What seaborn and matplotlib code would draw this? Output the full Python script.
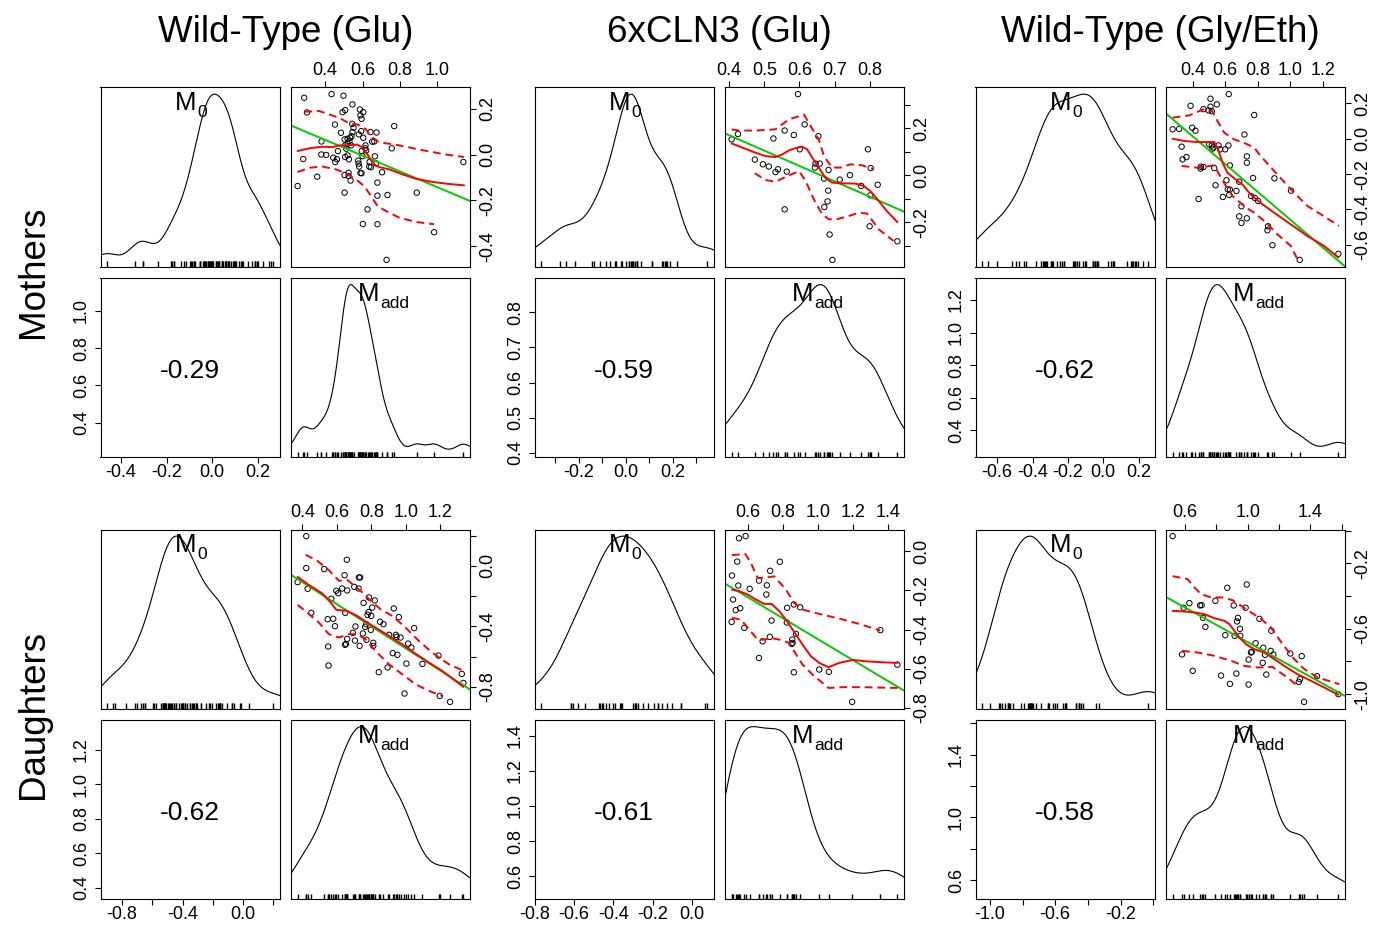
import numpy as np
import matplotlib
matplotlib.use("Agg")
import matplotlib.pyplot as plt
import seaborn as sns


GROUP_TITLES = ["Wild-Type (Glu)", "6xCLN3 (Glu)", "Wild-Type (Gly/Eth)"]
ROW_LABELS = ["Mothers", "Daughters"]
CORR_LABELS = ["-0.29", "-0.59", "-0.62", "-0.62", "-0.61", "-0.58"]
VAR_NAME = "M"
VAR_SUBS = ["0", "add"]

# points as (Madd, M0)
WT_GLU_MOTHERS = [
    (0.287, 0.249), (0.434, 0.265), (0.498, 0.258), (0.302, 0.185), (0.546, 0.220),
    (0.493, 0.186), (0.507, 0.195), (0.586, 0.198), (0.604, 0.186), (0.589, 0.172),
    (0.452, 0.132), (0.545, 0.135), (0.552, 0.118), (0.595, 0.157), (0.770, 0.125),
    (0.484, 0.096), (0.546, 0.099), (0.541, 0.081), (0.593, 0.103), (0.580, 0.089),
    (0.643, 0.099), (0.675, 0.097), (0.504, 0.067), (0.520, 0.070), (0.534, 0.074),
    (0.530, 0.060), (0.521, 0.049), (0.604, 0.074), (0.380, 0.058), (0.507, 0.041),
    (0.539, 0.041), (0.513, 0.026), (0.652, 0.057), (0.663, 0.058), (0.616, 0.041),
    (0.614, 0.028), (0.620, 0.019), (0.596, 0.016), (0.757, 0.028), (0.379, 0.001),
    (0.405, -0.001), (0.443, -0.013), (0.463, -0.020), (0.454, -0.032), (0.468, 0.016),
    (0.520, -0.003), (0.507, -0.010), (0.527, -0.020), (0.600, -0.006), (0.666, -0.007),
    (0.282, -0.019), (0.577, -0.026), (0.579, -0.039), (0.582, -0.052), (0.638, -0.032),
    (0.636, -0.052), (0.645, -0.055), (0.673, -0.038), (0.589, -0.080), (0.595, -0.081),
    (0.504, -0.089), (0.525, -0.079), (0.525, -0.093), (0.536, -0.113), (0.705, -0.077),
    (0.357, -0.096), (1.141, -0.032), (0.252, -0.137), (0.680, -0.122), (0.504, -0.166),
    (0.680, -0.179), (0.734, -0.176), (0.891, -0.166), (0.627, -0.239), (0.602, -0.303),
    (0.680, -0.304), (0.984, -0.339), (0.729, -0.460),
]
CLN3_GLU_MOTHERS = [
    (0.596, 0.346), (0.425, 0.176), (0.407, 0.153), (0.615, 0.217), (0.558, 0.191),
    (0.584, 0.172), (0.526, 0.157), (0.654, 0.167), (0.601, 0.111), (0.795, 0.111),
    (0.473, 0.067), (0.496, 0.047), (0.513, 0.038), (0.539, 0.026), (0.532, 0.014),
    (0.564, 0.016), (0.646, 0.050), (0.658, 0.050), (0.644, 0.033), (0.683, 0.023),
    (0.670, -0.014), (0.715, -0.018), (0.744, 0.001), (0.803, 0.031), (0.776, -0.045),
    (0.823, -0.040), (0.802, -0.085), (0.682, -0.065), (0.680, -0.111), (0.671, -0.135),
    (0.558, -0.145), (0.800, -0.217), (0.686, -0.252), (0.879, -0.281), (0.694, -0.360),
]
WT_GLY_MOTHERS = [
    (0.622, 0.252), (0.510, 0.226), (0.549, 0.194), (0.510, 0.181), (0.388, 0.186),
    (0.467, 0.167), (0.498, 0.160), (0.518, 0.156), (0.778, 0.134), (0.278, 0.053),
    (0.318, 0.055), (0.398, 0.062), (0.418, 0.045), (0.718, 0.024), (0.502, -0.032),
    (0.518, -0.038), (0.529, -0.049), (0.559, -0.038), (0.569, -0.060), (0.600, -0.060),
    (0.620, -0.038), (0.522, -0.056), (0.333, -0.045), (0.363, -0.104), (0.339, -0.117),
    (0.733, -0.100), (0.733, -0.136), (0.451, -0.158), (0.467, -0.160), (0.449, -0.169),
    (0.533, -0.166), (0.629, -0.151), (0.771, -0.222), (0.902, -0.224), (0.608, -0.235),
    (0.541, -0.263), (0.686, -0.243), (0.616, -0.286), (0.629, -0.288), (0.669, -0.295),
    (0.625, -0.318), (0.586, -0.329), (0.437, -0.341), (1.004, -0.294), (0.759, -0.324),
    (0.782, -0.335), (0.802, -0.352), (0.700, -0.382), (0.686, -0.439), (0.733, -0.450),
    (0.700, -0.476), (0.863, -0.495), (0.859, -0.518), (0.890, -0.602), (1.057, -0.685),
    (1.294, -0.651),
]
WT_GLU_DAUGHTERS = [
    (0.423, 0.196), (0.658, 0.040), (0.423, -0.015), (0.527, -0.022), (0.645, -0.062),
    (0.728, -0.077), (0.735, -0.077), (0.373, -0.108), (0.431, -0.152), (0.597, -0.165),
    (0.608, -0.181), (0.631, -0.150), (0.660, -0.163), (0.701, -0.139), (0.726, -0.150),
    (0.568, -0.218), (0.786, -0.209), (0.820, -0.229), (0.755, -0.245), (0.805, -0.276),
    (0.784, -0.306), (0.778, -0.324), (0.799, -0.331), (0.649, -0.311), (0.452, -0.311),
    (0.930, -0.282), (0.959, -0.339), (0.547, -0.353), (0.579, -0.350), (0.589, -0.399),
    (0.851, -0.370), (0.870, -0.386), (0.770, -0.386), (0.764, -0.403), (0.797, -0.423),
    (0.708, -0.401), (1.048, -0.412), (0.693, -0.443), (0.751, -0.447), (0.903, -0.456),
    (0.942, -0.456), (0.946, -0.469), (0.969, -0.474), (0.660, -0.483), (0.653, -0.516),
    (0.647, -0.522), (0.705, -0.494), (0.772, -0.489), (0.811, -0.509), (0.811, -0.529),
    (0.732, -0.529), (0.550, -0.533), (1.013, -0.514), (1.032, -0.540), (0.924, -0.577),
    (0.951, -0.588), (1.189, -0.593), (0.843, -0.703), (0.894, -0.672), (1.003, -0.646),
    (1.096, -0.648), (0.552, -0.659), (1.324, -0.714), (1.333, -0.774), (0.992, -0.844),
    (1.196, -0.860), (1.256, -0.899),
]
CLN3_GLU_DAUGHTERS = [
    (0.549, 0.066), (0.587, 0.077), (0.539, -0.053), (0.782, -0.054), (0.727, -0.100),
    (0.509, -0.124), (0.663, -0.150), (0.545, -0.175), (0.708, -0.174), (0.610, -0.192),
    (0.705, -0.221), (0.515, -0.247), (0.530, -0.301), (0.556, -0.291), (0.824, -0.289),
    (0.862, -0.272), (0.898, -0.286), (0.507, -0.361), (0.735, -0.354), (0.822, -0.364),
    (0.579, -0.391), (0.725, -0.437), (0.684, -0.460), (0.874, -0.422), (0.853, -0.451),
    (0.855, -0.468), (0.849, -0.473), (0.663, -0.545), (1.356, -0.403), (0.862, -0.618),
    (1.007, -0.604), (1.062, -0.616), (1.453, -0.579), (1.195, -0.769),
]
WT_GLY_DAUGHTERS = [
    (0.521, -0.033), (0.994, -0.329), (0.870, -0.349), (0.794, -0.429), (0.628, -0.443),
    (0.591, -0.471), (0.696, -0.457), (0.706, -0.455), (0.911, -0.457), (0.987, -0.471),
    (1.075, -0.539), (0.715, -0.533), (0.932, -0.555), (0.938, -0.533), (0.730, -0.588),
    (0.951, -0.600), (1.151, -0.612), (0.857, -0.639), (0.917, -0.643), (0.953, -0.643),
    (1.051, -0.688), (0.581, -0.757), (1.100, -0.716), (1.147, -0.735), (1.111, -0.759),
    (1.164, -0.757), (1.026, -0.741), (1.021, -0.745), (1.272, -0.751), (1.345, -0.767),
    (1.006, -0.788), (1.096, -0.808), (0.649, -0.857), (0.830, -0.886), (0.928, -0.874),
    (1.119, -0.880), (1.443, -0.890), (1.334, -0.908), (1.326, -0.925), (0.887, -0.937),
    (1.006, -0.941), (1.579, -1.000), (1.360, -1.047),
]

# red smoother (solid) and spread (dashed) lines, (Madd, M0)
WT_GLU_MOTHERS_FIT = [
    (0.252, 0.016), (0.314, 0.028), (0.386, 0.035), (0.439, 0.033), (0.475, 0.041),
    (0.511, 0.041), (0.573, 0.044), (0.600, 0.031), (0.627, 0.001), (0.645, -0.023),
    (0.663, -0.042), (0.689, -0.054), (0.743, -0.064), (0.814, -0.086), (0.886, -0.105),
    (0.975, -0.119), (1.064, -0.128), (1.145, -0.134),
]
WT_GLU_MOTHERS_UP = [
    (0.288, 0.188), (0.368, 0.191), (0.475, 0.161), (0.529, 0.137), (0.573, 0.132),
    (0.618, 0.111), (0.645, 0.079), (0.689, 0.055), (0.796, 0.041), (0.921, 0.020),
    (1.046, 0.001), (1.145, -0.010),
]
WT_GLU_MOTHERS_LO = [
    (0.252, -0.076), (0.314, -0.057), (0.386, -0.052), (0.457, -0.064), (0.511, -0.081),
    (0.564, -0.108), (0.609, -0.137), (0.645, -0.180), (0.680, -0.224), (0.725, -0.246),
    (0.796, -0.275), (0.886, -0.294), (0.984, -0.304),
]
CLN3_GLU_MOTHERS_FIT = [
    (0.407, 0.136), (0.438, 0.118), (0.476, 0.096), (0.504, 0.082), (0.532, 0.078),
    (0.551, 0.089), (0.570, 0.106), (0.589, 0.116), (0.608, 0.122), (0.622, 0.111),
    (0.637, 0.075), (0.655, 0.033), (0.674, -0.010), (0.693, -0.031), (0.722, -0.034),
    (0.759, -0.035), (0.783, -0.045), (0.802, -0.067), (0.826, -0.109), (0.849, -0.152),
    (0.879, -0.199),
]
CLN3_GLU_MOTHERS_UP = [
    (0.407, 0.196), (0.428, 0.191), (0.476, 0.191), (0.532, 0.196), (0.570, 0.238),
    (0.613, 0.259), (0.632, 0.210), (0.655, 0.153), (0.670, 0.082), (0.693, 0.033),
    (0.717, 0.033), (0.745, 0.047), (0.778, 0.043), (0.812, 0.026),
]
CLN3_GLU_MOTHERS_LO = [
    (0.473, 0.009), (0.504, -0.020), (0.532, -0.027), (0.566, -0.003), (0.599, 0.018),
    (0.618, -0.024), (0.641, -0.102), (0.665, -0.166), (0.684, -0.187), (0.707, -0.187),
    (0.741, -0.173), (0.769, -0.159), (0.793, -0.163), (0.826, -0.230), (0.868, -0.279),
]
WT_GLY_MOTHERS_FIT = [
    (0.278, 0.000), (0.349, -0.013), (0.431, -0.019), (0.533, -0.019), (0.553, -0.051),
    (0.584, -0.136), (0.614, -0.192), (0.676, -0.239), (0.706, -0.258), (0.747, -0.305),
    (0.778, -0.333), (0.829, -0.371), (0.900, -0.418), (1.002, -0.484), (1.104, -0.550),
    (1.206, -0.606), (1.294, -0.672),
]
WT_GLY_MOTHERS_UP = [
    (0.278, 0.119), (0.380, 0.132), (0.467, 0.166), (0.522, 0.156), (0.553, 0.100),
    (0.594, 0.034), (0.655, -0.004), (0.716, -0.023), (0.778, -0.051), (0.818, -0.098),
    (0.900, -0.182), (1.002, -0.286), (1.104, -0.380), (1.186, -0.427), (1.298, -0.493),
]
WT_GLY_MOTHERS_LO = [
    (0.333, -0.154), (0.431, -0.164), (0.533, -0.151), (0.563, -0.201), (0.604, -0.267),
    (0.645, -0.324), (0.727, -0.389), (0.778, -0.418), (0.839, -0.465), (0.920, -0.540),
    (1.002, -0.606), (1.043, -0.681),
]
WT_GLU_DAUGHTERS_FIT = [
    (0.373, -0.073), (0.431, -0.121), (0.516, -0.183), (0.564, -0.242), (0.597, -0.291),
    (0.660, -0.298), (0.718, -0.331), (0.776, -0.375), (0.824, -0.408), (0.901, -0.463),
    (0.978, -0.518), (1.055, -0.580), (1.133, -0.639), (1.210, -0.694), (1.333, -0.800),
]
WT_GLU_DAUGHTERS_UP = [
    (0.419, 0.073), (0.487, 0.033), (0.554, -0.029), (0.612, -0.099), (0.660, -0.093),
    (0.737, -0.165), (0.786, -0.220), (0.853, -0.287), (0.921, -0.331), (0.998, -0.408),
    (1.075, -0.496), (1.152, -0.573), (1.248, -0.650), (1.335, -0.694),
]
WT_GLU_DAUGHTERS_LO = [
    (0.373, -0.258), (0.429, -0.309), (0.496, -0.375), (0.554, -0.452), (0.612, -0.474),
    (0.670, -0.452), (0.718, -0.452), (0.766, -0.485), (0.824, -0.562), (0.901, -0.650),
    (0.978, -0.716), (1.055, -0.782), (1.133, -0.826), (1.210, -0.860),
]
CLN3_GLU_DAUGHTERS_FIT = [
    (0.509, -0.196), (0.551, -0.204), (0.598, -0.221), (0.646, -0.247), (0.693, -0.269),
    (0.735, -0.269), (0.779, -0.306), (0.817, -0.349), (0.855, -0.400), (0.912, -0.477),
    (0.959, -0.536), (1.007, -0.570), (1.060, -0.592), (1.121, -0.570), (1.197, -0.555),
    (1.273, -0.562), (1.368, -0.567), (1.453, -0.570),
]
CLN3_GLU_DAUGHTERS_UP = [
    (0.509, -0.020), (0.585, -0.014), (0.617, -0.060), (0.655, -0.136), (0.693, -0.136),
    (0.750, -0.128), (0.817, -0.196), (0.864, -0.264), (0.912, -0.298), (1.007, -0.320),
    (1.121, -0.344), (1.235, -0.371), (1.356, -0.405),
]
CLN3_GLU_DAUGHTERS_LO = [
    (0.509, -0.340), (0.560, -0.349), (0.608, -0.400), (0.655, -0.451), (0.693, -0.451),
    (0.731, -0.443), (0.779, -0.451), (0.836, -0.468), (0.864, -0.511), (0.912, -0.579),
    (0.969, -0.630), (1.060, -0.698), (1.140, -0.694), (1.254, -0.694), (1.453, -0.698),
]
WT_GLY_DAUGHTERS_FIT = [
    (0.521, -0.490), (0.596, -0.494), (0.660, -0.500), (0.723, -0.510), (0.787, -0.535),
    (0.851, -0.551), (0.883, -0.571), (0.915, -0.612), (0.947, -0.653), (0.989, -0.694),
    (1.043, -0.725), (1.106, -0.745), (1.170, -0.786), (1.234, -0.827), (1.319, -0.878),
    (1.404, -0.918), (1.489, -0.959), (1.579, -1.004),
]
WT_GLY_DAUGHTERS_UP = [
    (0.521, -0.278), (0.617, -0.296), (0.660, -0.347), (0.702, -0.388), (0.766, -0.408),
    (0.840, -0.408), (0.904, -0.425), (0.958, -0.459), (1.021, -0.500), (1.075, -0.531),
    (1.149, -0.592), (1.223, -0.694), (1.298, -0.786), (1.362, -0.847), (1.447, -0.898),
    (1.585, -0.939),
]
WT_GLY_DAUGHTERS_LO = [
    (0.581, -0.735), (0.681, -0.745), (0.787, -0.765), (0.894, -0.796), (0.979, -0.827),
    (1.064, -0.837), (1.160, -0.833), (1.192, -0.857), (1.255, -0.898), (1.330, -0.959),
]

# tick marks and which of them carry a label (R drops labels that would overlap)
MADD_TICKS = [
    [0.4, 0.6, 0.8, 1.0],
    [0.4, 0.5, 0.6, 0.7, 0.8],
    [0.4, 0.6, 0.8, 1.0, 1.2],
    [0.4, 0.6, 0.8, 1.0, 1.2],
    [0.6, 0.8, 1.0, 1.2, 1.4],
    [0.6, 0.8, 1.0, 1.2, 1.4, 1.6],
]
MADD_LABELED = [
    [0.4, 0.6, 0.8, 1.0],
    [0.4, 0.5, 0.6, 0.7, 0.8],
    [0.4, 0.6, 0.8, 1.0, 1.2],
    [0.4, 0.6, 0.8, 1.0, 1.2],
    [0.6, 0.8, 1.0, 1.2, 1.4],
    [0.6, 1.0, 1.4],
]
M0_TICKS = [
    [-0.4, -0.2, 0.0, 0.2],
    [-0.3, -0.2, -0.1, 0.0, 0.1, 0.2, 0.3],
    [-0.6, -0.4, -0.2, 0.0, 0.2],
    [-0.8, -0.6, -0.4, -0.2, 0.0, 0.2],
    [-0.8, -0.6, -0.4, -0.2, 0.0],
    [-1.0, -0.8, -0.6, -0.4, -0.2, 0.0],
]
M0_LABELED = [
    [-0.4, -0.2, 0.0, 0.2],
    [-0.2, 0.0, 0.2],
    [-0.6, -0.4, -0.2, 0.0, 0.2],
    [-0.8, -0.4, 0.0],
    [-0.8, -0.6, -0.4, -0.2, 0.0],
    [-1.0, -0.6, -0.2],
]

POINTS = [WT_GLU_MOTHERS, CLN3_GLU_MOTHERS, WT_GLY_MOTHERS,
          WT_GLU_DAUGHTERS, CLN3_GLU_DAUGHTERS, WT_GLY_DAUGHTERS]
FITS = [WT_GLU_MOTHERS_FIT, CLN3_GLU_MOTHERS_FIT, WT_GLY_MOTHERS_FIT,
        WT_GLU_DAUGHTERS_FIT, CLN3_GLU_DAUGHTERS_FIT, WT_GLY_DAUGHTERS_FIT]
UPPERS = [WT_GLU_MOTHERS_UP, CLN3_GLU_MOTHERS_UP, WT_GLY_MOTHERS_UP,
          WT_GLU_DAUGHTERS_UP, CLN3_GLU_DAUGHTERS_UP, WT_GLY_DAUGHTERS_UP]
LOWERS = [WT_GLU_MOTHERS_LO, CLN3_GLU_MOTHERS_LO, WT_GLY_MOTHERS_LO,
          WT_GLU_DAUGHTERS_LO, CLN3_GLU_DAUGHTERS_LO, WT_GLY_DAUGHTERS_LO]

# layout in pixels of the 1380x925 canvas
FIG_W, FIG_H = 1380, 925
PANEL = 179
STEP = 190.5
COL_X = [100.5, 534.5, 975.5]
ROW_Y = [87.5, 529.5]
LABEL_X = [0.478, 0.436]   # where the "M" of each diagonal label sits

sns.set_style("ticks")
plt.rcParams["font.family"] = ["Liberation Sans", "DejaVu Sans"]
plt.rcParams["text.color"] = "black"
plt.rcParams["axes.labelcolor"] = "black"
plt.rcParams["xtick.color"] = "black"
plt.rcParams["ytick.color"] = "black"
plt.rcParams["axes.linewidth"] = 0.8
plt.rcParams["axes.edgecolor"] = "black"


def padded(v):
    lo, hi = v.min(), v.max()
    r = hi - lo
    return lo - 0.04 * r, hi + 0.04 * r


def nrd0(v):
    # R's default bandwidth, given to scipy as a factor of the sd
    sd = v.std(ddof=1)
    iqr = np.subtract(*np.percentile(v, [75, 25]))
    h = 0.9 * min(sd, iqr / 1.34) * len(v) ** -0.2
    return h / sd


def fmt(t):
    return f"{abs(t):.1f}" if abs(t) < 1e-9 else f"{t:.1f}"


def tick_labels(ticks, labeled):
    return [fmt(t) if any(abs(t - l) < 1e-9 for l in labeled) else "" for t in ticks]


def add_axes(fig, x, y):
    return fig.add_axes([x / FIG_W, 1 - (y + PANEL) / FIG_H, PANEL / FIG_W, PANEL / FIG_H])


def style_ticks(ax):
    ax.tick_params(length=4.5, width=0.8, color="black", labelsize=13, labelcolor="black")


def density_panel(ax, v, lims, k):
    sns.kdeplot(x=v, bw_method=nrd0(v), cut=3, gridsize=400, color="black", lw=0.8, ax=ax)
    dmax = ax.lines[-1].get_ydata().max()
    sns.rugplot(x=v, height=0.03, color="black", lw=0.6, ax=ax)
    ax.set_xlim(lims)
    ax.set_ylim(-0.04 * dmax, 1.04 * dmax)
    ax.set_xticks([])
    ax.set_yticks([])
    ax.set_xlabel("")
    ax.set_ylabel("")
    name = ax.text(LABEL_X[k], 0.978, VAR_NAME, transform=ax.transAxes,
                   ha="center", va="top", fontsize=18.5)
    # R drops the subscript well below the baseline
    ax.annotate(VAR_SUBS[k], xy=(1.0, 0.0), xycoords=name, xytext=(0.3, -1.2),
                textcoords="offset points", ha="left", va="baseline", fontsize=12.5)


def scatter_panel(ax, madd, m0, fit, upper, lower, xl, yl, i):
    ax.set_xlim(xl)
    ax.set_ylim(yl)
    sns.scatterplot(x=madd, y=m0, marker="o", s=15, facecolor="none",
                    edgecolor="black", linewidth=0.7, ax=ax)
    sns.regplot(x=madd, y=m0, scatter=False, ci=None, truncate=False,
                color="#00CD00", line_kws={"lw": 1.4}, ax=ax)
    for line, ls in ((fit, "-"), (upper, (0, (4, 2.5))), (lower, (0, (4, 2.5)))):
        arr = np.array(line)
        sns.lineplot(x=arr[:, 0], y=arr[:, 1], sort=False, estimator=None,
                     color="red", lw=1.4, linestyle=ls, ax=ax)
    ax.set_xlim(xl)
    ax.set_ylim(yl)
    ax.set_xlabel("")
    ax.set_ylabel("")
    ax.xaxis.tick_top()
    ax.yaxis.tick_right()
    ax.set_xticks(MADD_TICKS[i], labels=tick_labels(MADD_TICKS[i], MADD_LABELED[i]))
    ax.set_yticks(M0_TICKS[i], labels=tick_labels(M0_TICKS[i], M0_LABELED[i]),
                  rotation=90, va="center")
    style_ticks(ax)
    ax.tick_params(axis="x", pad=1.5)
    ax.tick_params(axis="y", pad=2.5)


def corr_panel(ax, xl, yl, text, i):
    ax.set_xlim(xl)
    ax.set_ylim(yl)
    ax.set_xticks(M0_TICKS[i], labels=tick_labels(M0_TICKS[i], M0_LABELED[i]))
    ax.set_yticks(MADD_TICKS[i], labels=tick_labels(MADD_TICKS[i], MADD_LABELED[i]),
                  rotation=90, va="center")
    style_ticks(ax)
    ax.tick_params(axis="x", pad=0.8)
    ax.tick_params(axis="y", pad=3.0)
    ax.text(0.5, 0.482, text, transform=ax.transAxes, ha="center", va="center", fontsize=19)


fig = plt.figure(figsize=(FIG_W / 100, FIG_H / 100), dpi=100)

for i, pts in enumerate(POINTS):
    row, col = divmod(i, 3)
    arr = np.array(pts)
    madd, m0 = arr[:, 0], arr[:, 1]
    xl, yl = padded(madd), padded(m0)
    x0, y0 = COL_X[col], ROW_Y[row]

    density_panel(add_axes(fig, x0, y0), m0, yl, 0)
    scatter_panel(add_axes(fig, x0 + STEP, y0), madd, m0, FITS[i], UPPERS[i], LOWERS[i], xl, yl, i)
    corr_panel(add_axes(fig, x0, y0 + STEP), yl, xl, CORR_LABELS[i], i)
    density_panel(add_axes(fig, x0 + STEP, y0 + STEP), madd, xl, 1)

for col, title in enumerate(GROUP_TITLES):
    cx = COL_X[col] + (STEP + PANEL) / 2
    fig.text(cx / FIG_W, 1 - 42 / FIG_H, title, ha="center", va="baseline", fontsize=26.5)

for row, label in enumerate(ROW_LABELS):
    cy = ROW_Y[row] + (STEP + PANEL) / 2
    fig.text(34 / FIG_W, 1 - cy / FIG_H, label, rotation=90, ha="center", va="center", fontsize=26.5)

fig.savefig("out.png", dpi=100)
